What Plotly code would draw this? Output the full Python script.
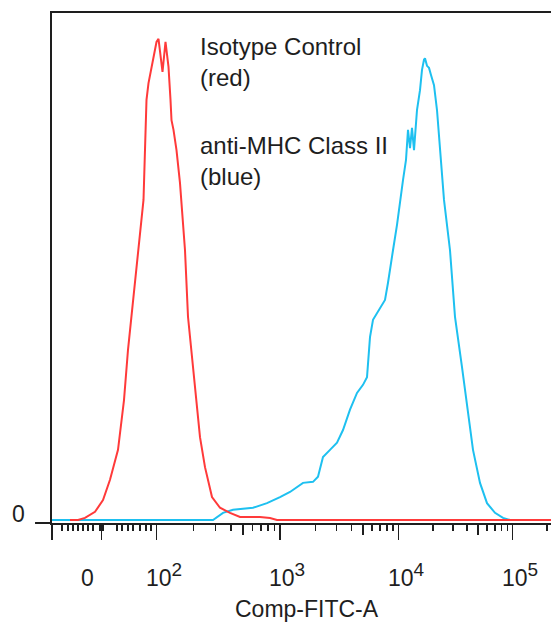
import numpy as np
import plotly.graph_objects as go

# ---------------- data (x = display channel on biexponential Comp-FITC-A axis, y = % of max) -------------
red_channel = [36, 52, 66, 86, 102, 116, 132, 144, 152, 162, 173, 176, 183, 187, 189, 193, 199, 204, 209, 213,
               221, 227, 233, 237, 239, 243, 249, 256, 263, 266, 272, 282, 296, 306, 320, 336, 356, 376, 416,
               436, 450, 466, 998]
red_pct = [0, 0, 0.4, 1.6, 3.9, 7.9, 13.8, 23.6, 33.5, 43.3, 53.1, 56.5, 63.0, 76.2, 82.7, 86.0, 89.2, 91.9, 94.1,
           94.7, 88.2, 94.1, 89.2, 82.7, 78.7, 76.8, 72.8, 66.3, 56.5, 53.1, 40.0, 30.1, 16.3, 10.4, 4.5, 2.4,
           1.4, 0.6, 0.6, 0.4, 0, 0, 0]

blue_channel = [0, 296, 322, 342, 362, 402, 430, 456, 476, 502, 522, 532, 542, 556, 570, 582, 596, 610, 622, 630,
                636, 642, 656, 666, 672, 680, 682, 690, 696, 702, 708, 712, 716, 720, 724, 730, 736, 740, 744,
                746, 750, 754, 758, 764, 770, 776, 784, 796, 806, 820, 832, 842, 856, 870, 886, 902, 916, 998]
blue_pct = [0, 0, 0, 1.4, 2.0, 2.4, 3.3, 4.5, 5.5, 7.3, 7.5, 8.5, 12.4, 13.8, 15.2, 17.7, 21.7, 25.0, 26.6, 28.1,
            36.0, 39.4, 41.7, 43.3, 46.7, 51.2, 53.1, 58.1, 63.0, 66.9, 70.9, 76.8, 73.2, 77.2, 72.8, 80.7, 84.6,
            88.6, 90.6, 90.9, 89.4, 89.0, 87.6, 85.6, 80.7, 72.8, 63.0, 53.1, 40.0, 30.1, 21.7, 13.8, 7.3, 3.3,
            1.4, 0.4, 0, 0]

# axis calibration (display channel of zero and of each labelled decade)
zero_channel = 99
decade_channels = [209, 456, 693, 921]
decade_exponents = ["2", "3", "4", "5"]
linear_minor_channels = [20, 32, 42, 52, 62, 72, 82, 96, 102, 130, 140, 152, 162, 176, 188, 198]

x_title = "Comp-FITC-A"
legend_lines = [("Isotype Control<br>(red)", 0.292, 0.962), ("anti-MHC Class II<br>(blue)", 0.292, 0.770)]

X_MAX = 998
FONT = "Liberation Sans, Arial, sans-serif"
INK = "#1e1e1e"

# derived tick positions
spans = list(np.diff(decade_channels)) + [np.diff(decade_channels)[-1]]
minor_ticks = list(linear_minor_channels)
medium_ticks = []
for start, span in zip(decade_channels, spans):
    for k in range(2, 10):
        pos = start + np.log10(k) * span
        if pos > X_MAX:
            continue
        (medium_ticks if k == 5 else minor_ticks).append(float(pos))
major_ticks = [0, zero_channel] + decade_channels

fig = go.Figure()
fig.add_trace(go.Scatter(x=blue_channel, y=blue_pct, mode="lines",
                         line=dict(color="#1ec0f0", width=2), hoverinfo="skip"))
fig.add_trace(go.Scatter(x=red_channel, y=red_pct, mode="lines",
                         line=dict(color="#ff3a3a", width=2), hoverinfo="skip"))
fig.add_trace(go.Scatter(x=[], y=[], xaxis="x2", showlegend=False))

fig.update_layout(
    width=551, height=623,
    margin=dict(l=52, r=0, t=12, b=100),
    paper_bgcolor="white", plot_bgcolor="white",
    showlegend=False,
    font=dict(family=FONT, size=23, color=INK),
    xaxis=dict(range=[0, X_MAX], showgrid=False, zeroline=False,
               showline=True, linecolor=INK, linewidth=2,
               tickmode="array", tickvals=major_ticks, showticklabels=False,
               ticks="outside", ticklen=15, tickwidth=1.5, tickcolor=INK,
               minor=dict(tickmode="array", tickvals=minor_ticks, ticks="outside",
                          ticklen=6, tickwidth=1.5, tickcolor=INK)),
    xaxis2=dict(range=[0, X_MAX], overlaying="x", anchor="y", side="bottom",
                showgrid=False, zeroline=False, showline=False,
                tickmode="array", tickvals=medium_ticks, showticklabels=False,
                ticks="outside", ticklen=11, tickwidth=1.5, tickcolor=INK),
    yaxis=dict(range=[-0.6, 100], showgrid=False, zeroline=False,
               showline=True, linecolor=INK, linewidth=2,
               showticklabels=False, ticks=""),
)

# top frame line and y zero tick
fig.add_shape(type="line", xref="paper", yref="paper", x0=-0.004, x1=1, y0=1, y1=1,
              line=dict(color=INK, width=2))
fig.add_shape(type="line", xref="paper", yref="paper", x0=-0.034, x1=0, y0=0, y1=0,
              line=dict(color=INK, width=2))

# tick labels
fig.add_annotation(x=zero_channel, y=0, xref="x", yref="paper", text="0", showarrow=False,
                   xanchor="center", yanchor="middle", xshift=-14, yshift=-55)
for ch, ex in zip(decade_channels, decade_exponents):
    lab = "10<sup><span style='font-size:19px'>" + ex + "</span></sup>"
    fig.add_annotation(x=ch, y=0, xref="x", yref="paper", text=lab, showarrow=False,
                       xanchor="left", yanchor="middle", xshift=-13, yshift=-52)
fig.add_annotation(x=0, y=0, xref="paper", yref="paper", text="0", showarrow=False,
                   xanchor="center", yanchor="middle", xshift=-34, yshift=9)
fig.add_annotation(x=0.511, y=0, xref="paper", yref="paper", text=x_title, showarrow=False,
                   xanchor="center", yanchor="middle", yshift=-86)
for txt, px, py in legend_lines:
    fig.add_annotation(x=px, y=py, xref="paper", yref="paper", text=txt, showarrow=False,
                       xanchor="left", yanchor="top", align="left", font=dict(size=24))

fig.write_html("out.html", config={"displayModeBar": False, "staticPlot": True},
               post_script="document.body.style.margin='0';document.body.style.overflow='hidden';")
